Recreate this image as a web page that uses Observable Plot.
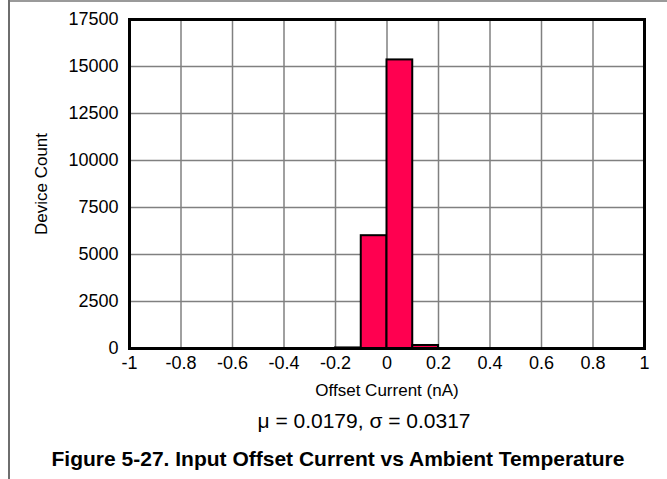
<!DOCTYPE html>
<html>
<head>
<meta charset="utf-8">
<script src="https://cdn.jsdelivr.net/npm/d3@7"></script>
<script src="https://cdn.jsdelivr.net/npm/@observablehq/plot@0.6"></script>
<style>
  html, body { margin: 0; padding: 0; background: #fff; }
  #wrap { position: relative; width: 667px; height: 479px; overflow: hidden; background: #fff;
          font-family: Arial, "Liberation Sans", sans-serif; color: #000; }
  .vline { position: absolute; left: 8px; top: 0; width: 2px; height: 479px; background: #6e6e6e; }
  .hline { position: absolute; left: 8px; top: 0; right: 0; height: 2px; background: #9a9a9a; }
  #chart { position: absolute; left: 0; top: 0; }
  #stats { position: absolute; left: 0; width: 728px; top: 409px; text-align: center;
           font-size: 21px; line-height: 24px; }
  #caption { position: absolute; left: 0; width: 676px; top: 446px; text-align: center;
             font-size: 21px; font-weight: bold; line-height: 26px; }
</style>
</head>
<body>
<div id="wrap">
  <div class="hline"></div>
  <div class="vline"></div>
  <div id="chart"></div>
  <div id="stats"></div>
  <div id="caption"></div>
</div>
<script>
// ---- data ----
const binLow  = [-0.2, -0.1, 0.0, 0.1];
const binHigh = [-0.1,  0.0, 0.1, 0.2];
const counts  = [30, 6000, 15350, 160];

const xTicks = [-1, -0.8, -0.6, -0.4, -0.2, 0, 0.2, 0.4, 0.6, 0.8, 1];
const yTicks = [0, 2500, 5000, 7500, 10000, 12500, 15000, 17500];

const xLabel = "Offset Current (nA)";
const yLabel = "Device Count";
const statsText = "μ = 0.0179, σ = 0.0317";
const captionText = "Figure 5-27. Input Offset Current vs Ambient Temperature";

const bins = binLow.map((lo, i) => ({lo, hi: binHigh[i], count: counts[i]}));
const fmt = d => (Math.abs(d) < 1e-9 ? "0" : String(+d.toFixed(1)));

const chart = Plot.plot({
  width: 667,
  height: 410,
  marginLeft: 129,
  marginRight: 23,
  marginTop: 19,
  marginBottom: 62,
  style: {fontFamily: 'Arial, "Liberation Sans", sans-serif', fontSize: "17px", color: "#000", background: "transparent", overflow: "visible"},
  x: {domain: [-1, 1]},
  y: {domain: [0, 17500]},
  marks: [
    Plot.gridX(xTicks, {stroke: "#808080", strokeOpacity: 1, strokeWidth: 1.5}),
    Plot.gridY(yTicks, {stroke: "#808080", strokeOpacity: 1, strokeWidth: 1.5}),
    Plot.rectY(bins, {x1: "lo", x2: "hi", y: "count", fill: "#ff0050", stroke: "#000", strokeWidth: 2}),
    Plot.frame({stroke: "#000", strokeWidth: 3}),
    Plot.axisX({ticks: xTicks, tickFormat: fmt, tickSize: 0, tickPadding: 8, fontSize: 18,
                label: null}),
    Plot.axisX({ticks: [], fontSize: 17,
                label: xLabel, labelAnchor: "center", labelArrow: "none", labelOffset: 47}),
    Plot.axisY({ticks: yTicks, tickFormat: d => String(d), tickSize: 0, tickPadding: 11, fontSize: 18,
                label: null}),
    Plot.axisY({ticks: [], fontSize: 17,
                label: yLabel, labelAnchor: "center", labelArrow: "none", labelOffset: 95})
  ]
});
document.getElementById("chart").appendChild(chart);
document.getElementById("stats").textContent = statsText;
document.getElementById("caption").textContent = captionText;
</script>
</body>
</html>
